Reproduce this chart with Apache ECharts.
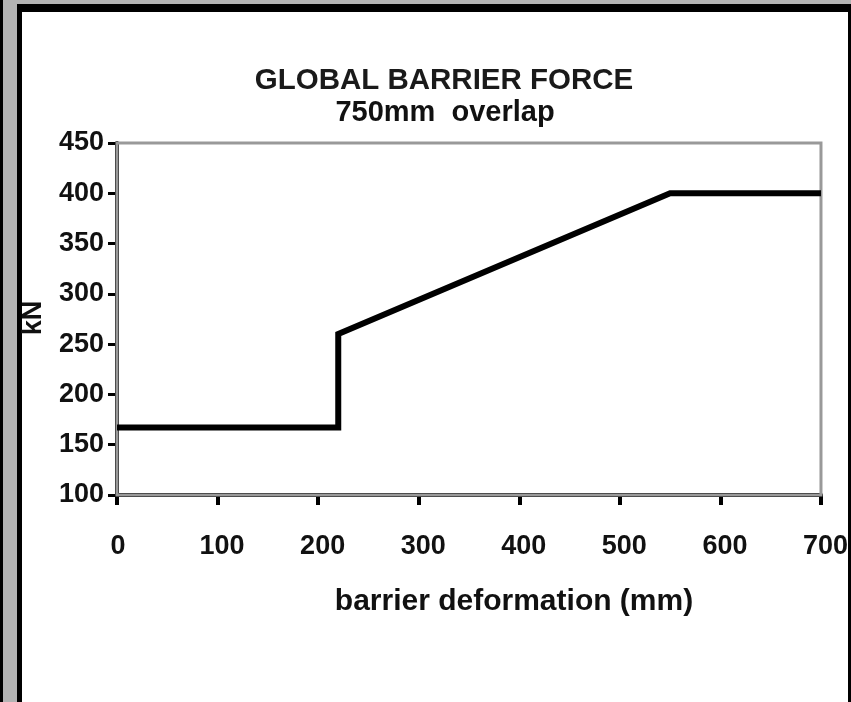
<!DOCTYPE html>
<html>
<head>
<meta charset="utf-8">
<script src="https://cdn.jsdelivr.net/npm/echarts@6/dist/echarts.min.js"></script>
<style>
html,body{margin:0;padding:0;background:#b3b3b3;}
#c{width:851px;height:702px;}
</style>
</head>
<body>
<div id="c"></div>
<script>
// Data
var deformation = [0, 220, 220, 550, 700];      // mm
var force = [167, 167, 260, 400, 400];          // kN
var xTicks = [0, 100, 200, 300, 400, 500, 600, 700];
var yTicks = [100, 150, 200, 250, 300, 350, 400, 450];
var titleText = 'GLOBAL BARRIER FORCE';
var subtitleText = '750mm  overlap';
var xName = 'barrier deformation (mm)';
var yName = 'kN';

var FONT = '"Liberation Sans", Arial, sans-serif';
var points = deformation.map(function (x, i) { return [x, force[i]]; });
var labelFont = { color: '#111', fontSize: 27, fontWeight: 'bold', fontFamily: FONT };

var chart = echarts.init(document.getElementById('c'));
chart.setOption({
  backgroundColor: '#b3b3b3',
  animation: false,
  grid: {
    left: 117, top: 143, width: 705, height: 352,
    show: true, borderColor: '#999999', borderWidth: 3, backgroundColor: 'transparent', z: 1
  },
  xAxis: {
    type: 'value', min: xTicks[0], max: xTicks[xTicks.length - 1], interval: 100,
    axisLine: { show: true, onZero: false, lineStyle: { color: '#000', width: 4 } },
    axisTick: { show: true, length: 10, lineStyle: { color: '#000', width: 4 } },
    axisLabel: {
      margin: 38, color: '#111', fontSize: 27, fontWeight: 'bold', fontFamily: FONT,
      formatter: function (v) { return v === 0 ? '{z|' + v + '}' : '{n|' + v + '}'; },
      rich: {
        z: Object.assign({ padding: [0, 0, 0, 2] }, labelFont),
        n: Object.assign({ padding: [0, 0, 0, 9] }, labelFont)
      }
    },
    splitLine: { show: false }
  },
  yAxis: {
    type: 'value', min: yTicks[0], max: yTicks[yTicks.length - 1], interval: 50,
    axisLine: { show: true, onZero: false, lineStyle: { color: '#000', width: 4 } },
    axisTick: { show: true, length: 9, lineStyle: { color: '#000', width: 3 } },
    axisLabel: { margin: 13, color: '#111', fontSize: 27, fontWeight: 'bold', fontFamily: FONT },
    splitLine: { show: false }
  },
  graphic: [
    { type: 'rect', z: -10, shape: { x: 0, y: 0, width: 3, height: 702 }, style: { fill: '#000' } },
    { type: 'rect', z: -10, shape: { x: 17, y: 4, width: 834, height: 698 }, style: { fill: '#000' } },
    { type: 'rect', z: -9, shape: { x: 22, y: 12, width: 826, height: 690 }, style: { fill: '#fff' } },
    { type: 'text', z: 10, x: 444, y: 81, style: { text: titleText, fill: '#1a1a1a', font: 'bold 29.5px ' + FONT, textAlign: 'center', textVerticalAlign: 'middle' } },
    { type: 'text', z: 10, x: 445, y: 113, style: { text: subtitleText, fill: '#111', font: 'bold 29px ' + FONT, textAlign: 'center', textVerticalAlign: 'middle' } },
    { type: 'text', z: 10, x: 514, y: 602, style: { text: xName, fill: '#111', font: 'bold 30px ' + FONT, textAlign: 'center', textVerticalAlign: 'middle' } },
    { type: 'text', z: 10, x: 34, y: 318, rotation: Math.PI / 2, style: { text: yName, fill: '#111', font: 'bold 27px ' + FONT, textAlign: 'center', textVerticalAlign: 'middle' } }
  ],
  series: [{
    type: 'line', data: points, symbol: 'none', z: 5,
    lineStyle: { color: '#000', width: 6, cap: 'butt', join: 'miter' }
  }]
});
</script>
</body>
</html>
